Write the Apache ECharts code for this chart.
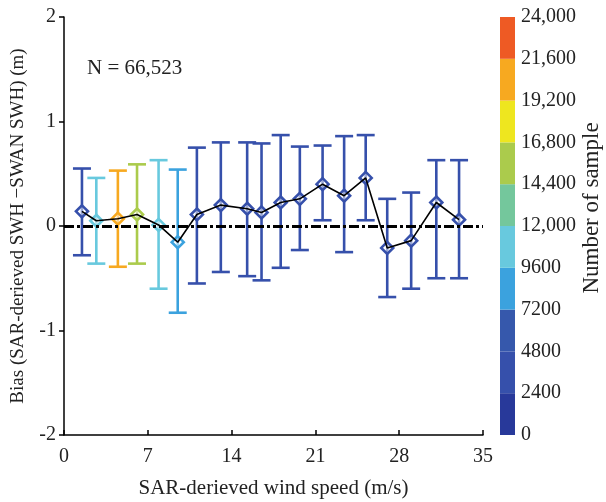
<!DOCTYPE html>
<html>
<head>
<meta charset="utf-8">
<script src="https://cdn.jsdelivr.net/npm/echarts@6/dist/echarts.min.js"></script>
<style>
  html, body { margin: 0; padding: 0; background: #fff; }
  #chart { width: 606px; height: 502px; }
</style>
</head>
<body>
<div id="chart"></div>
<script>
// Bias of SAR-derived SWH against SWAN SWH, binned by SAR wind speed
var windSpeed = [1.5, 2.7, 4.5, 6.1, 7.9, 9.5, 11.1, 13.1, 15.3, 16.5, 18.1, 19.7, 21.6, 23.4, 25.2, 27.0, 29.0, 31.1, 33.0];
var meanBias  = [0.14, 0.05, 0.07, 0.11, 0.01, -0.155, 0.11, 0.20, 0.165, 0.13, 0.225, 0.26, 0.40, 0.29, 0.46, -0.21, -0.14, 0.225, 0.06];
var upperBias = [0.55, 0.46, 0.53, 0.59, 0.63, 0.54, 0.75, 0.80, 0.80, 0.79, 0.87, 0.76, 0.77, 0.86, 0.87, 0.26, 0.32, 0.63, 0.63];
var lowerBias = [-0.28, -0.36, -0.39, -0.36, -0.60, -0.83, -0.55, -0.44, -0.48, -0.52, -0.40, -0.23, 0.055, -0.25, 0.055, -0.68, -0.60, -0.50, -0.50];
var sampleCount = [4000, 10500, 20500, 15500, 10800, 8500, 4200, 3800, 3500, 3300, 3000, 2800, 2600, 2900, 2500, 2700, 2600, 2450, 2450];

// Colour scale for sample counts
var bandEdges  = [0, 2400, 4800, 7200, 9600, 12000, 14400, 16800, 19200, 21600, 24000];
var bandColors = ['#28399a', '#3650ab', '#3658ac', '#3ba2de', '#68c9de', '#74c79c', '#abcb4c', '#eee61f', '#f7a920', '#ee5a24'];
var bandLabels = ['0', '2400', '4800', '7200', '9600', '12,000', '14,400', '16,800', '19,200', '21,600', '24,000'];

var totalLabel = 'N = 66,523';
var colorbarTitle = 'Number of sample';
var FONT = '"Liberation Serif", "Times New Roman", serif';

function colorFor(n) {
  for (var i = 0; i < bandColors.length; i++) {
    if (n >= bandEdges[i] && n < bandEdges[i + 1]) return bandColors[i];
  }
  return bandColors[bandColors.length - 1];
}

var errData = windSpeed.map(function (x, i) {
  return [x, meanBias[i], lowerBias[i], upperBias[i], sampleCount[i]];
});
var lineData = windSpeed.map(function (x, i) { return [x, meanBias[i]]; });

// One stacked bar per colour band for the colour bar
var bandSeries = bandColors.map(function (c, i) {
  return {
    type: 'bar',
    xAxisIndex: 1,
    yAxisIndex: 1,
    stack: 'cb',
    barWidth: '100%',
    silent: true,
    itemStyle: { color: c },
    data: [bandEdges[i + 1] - bandEdges[i]]
  };
});

function renderErrorBar(params, api) {
  var x = api.value(0);
  var mid = api.coord([x, api.value(1)]);
  var lo = api.coord([x, api.value(2)]);
  var hi = api.coord([x, api.value(3)]);
  var color = colorFor(api.value(4));
  var cap = 9;
  var d = 6;
  var lineStyle = { stroke: color, lineWidth: 2.6 };
  return {
    type: 'group',
    children: [
      { type: 'line', shape: { x1: mid[0], y1: hi[1], x2: mid[0], y2: lo[1] }, style: lineStyle },
      { type: 'line', shape: { x1: mid[0] - cap, y1: hi[1], x2: mid[0] + cap, y2: hi[1] }, style: lineStyle },
      { type: 'line', shape: { x1: mid[0] - cap, y1: lo[1], x2: mid[0] + cap, y2: lo[1] }, style: lineStyle },
      {
        type: 'polygon',
        shape: { points: [[mid[0], mid[1] - d], [mid[0] + d, mid[1]], [mid[0], mid[1] + d], [mid[0] - d, mid[1]]] },
        style: { fill: 'rgba(255,255,255,0.5)', stroke: color, lineWidth: 2.6 }
      }
    ]
  };
}

var chart = echarts.init(document.getElementById('chart'), null, { renderer: 'canvas' });
chart.setOption({
  animation: false,
  backgroundColor: '#fff',
  textStyle: { fontFamily: FONT },
  grid: [
    { left: 64, right: 123, top: 17, bottom: 67, containLabel: false, outerBoundsMode: 'none' },
    { left: 500, width: 15, top: 17, bottom: 67, containLabel: false, outerBoundsMode: 'none' }
  ],
  graphic: [
    {
      type: 'text', left: 87, top: 58,
      style: { text: totalLabel, font: '21px ' + FONT, fill: '#222' }
    },
    {
      type: 'text', x: 592, y: 208, rotation: Math.PI / 2,
      style: { text: colorbarTitle, font: '23px ' + FONT, fill: '#222', align: 'center', verticalAlign: 'middle' }
    }
  ],
  xAxis: [
    {
      type: 'value', gridIndex: 0, min: 0, max: 35, interval: 7,
      name: 'SAR-derieved wind speed (m/s)', nameLocation: 'middle', nameGap: 43,
      nameTextStyle: { fontSize: 21, color: '#222', fontFamily: FONT },
      axisLine: { onZero: false, lineStyle: { color: '#000', width: 1.5 } },
      axisTick: { inside: true, length: 5, lineStyle: { color: '#000', width: 1.5 } },
      axisLabel: { fontSize: 20, color: '#222', margin: 12, fontFamily: FONT },
      splitLine: { show: false }
    },
    {
      type: 'category', gridIndex: 1, data: ['n'],
      axisLine: { show: false }, axisTick: { show: false }, axisLabel: { show: false }
    }
  ],
  yAxis: [
    {
      type: 'value', gridIndex: 0, min: -2, max: 2, interval: 1,
      name: 'Bias (SAR-derieved SWH \u2212SWAN SWH) (m)', nameLocation: 'middle', nameGap: 36,
      nameTextStyle: { fontSize: 19, color: '#222', fontFamily: FONT },
      axisLine: { show: true, onZero: false, lineStyle: { color: '#000', width: 1.5 } },
      axisTick: { show: true, inside: false, length: 5, lineStyle: { color: '#000', width: 1.5 } },
      axisLabel: { fontSize: 20, color: '#222', margin: 8, fontFamily: FONT },
      splitLine: { show: false }
    },
    {
      type: 'value', gridIndex: 1, min: 0, max: 24000, interval: 2400, position: 'right',
      axisLine: { show: false }, axisTick: { show: false },
      axisLabel: {
        fontSize: 20, color: '#222', margin: 6, fontFamily: FONT,
        formatter: function (v) { return bandLabels[bandEdges.indexOf(v)] || ''; }
      },
      splitLine: { show: false }
    }
  ],
  series: [
    {
      type: 'custom',
      xAxisIndex: 0, yAxisIndex: 0,
      renderItem: renderErrorBar,
      data: errData,
      z: 3
    },
    {
      type: 'line',
      xAxisIndex: 0, yAxisIndex: 0,
      data: lineData,
      symbol: 'none',
      lineStyle: { color: '#000', width: 1.6 },
      z: 4,
      markLine: {
        silent: true, symbol: 'none', label: { show: false },
        lineStyle: { color: '#000', width: 3, type: [10, 3, 3, 3] },
        data: [{ yAxis: 0 }]
      }
    }
  ].concat(bandSeries)
});
</script>
</body>
</html>
